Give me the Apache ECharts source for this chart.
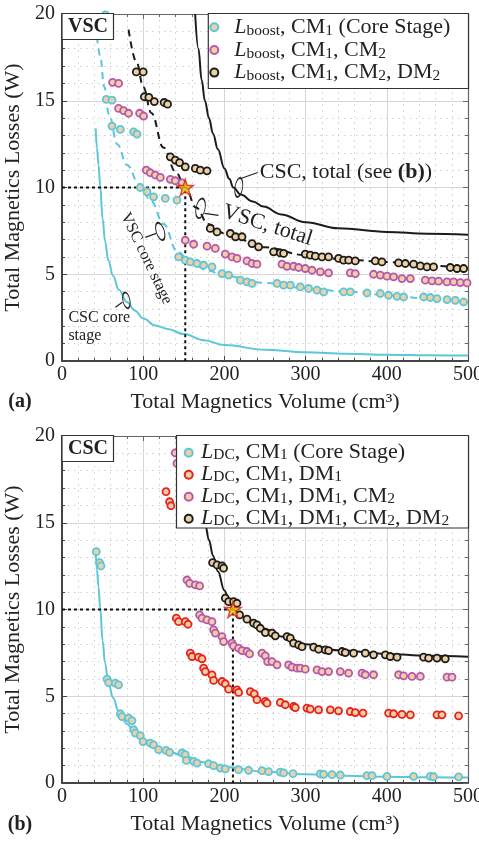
<!DOCTYPE html>
<html>
<head>
<meta charset="utf-8">
<script src="https://cdn.jsdelivr.net/npm/echarts@6/dist/echarts.min.js"></script>
<style>
  html, body { margin: 0; padding: 0; background: #fff; }
  #chart { width: 479px; height: 843px; }
</style>
</head>
<body>
<div id="chart"></div>
<script>
// ---- axes ----
const xMin = 0, xMax = 500, xStep = 100;
const yMin = 0, yMax = 20, yStep = 5;

// ---- panel (a): VSC, scatter of designs [volume cm3, losses W] ----
const vscCorePts = [
  [53.5, 19.95], [54.6, 15.08], [61.6, 15.04], [61.6, 13.54], [71.8, 13.35], [88.2, 13.21], [92.4, 13.08],
  [96.4, 10.0], [104.7, 9.75], [112.8, 9.46], [127.2, 9.37], [141.6, 9.27],
  [143.6, 6.0], [151.8, 5.81], [158, 5.71], [166.3, 5.62], [174.4, 5.52], [184.7, 5.42], [197, 5.04],
  [205.2, 4.95], [219.6, 4.66], [227.8, 4.56], [234, 4.47], [264.8, 4.47], [272.9, 4.37], [281.2, 4.37],
  [293.5, 4.27], [303.7, 4.18], [314, 4.08], [322.2, 3.98], [346.8, 3.98], [355, 3.98], [375.6, 3.92],
  [392, 3.89], [402.2, 3.79], [412.6, 3.73], [420.7, 3.69], [445.3, 3.69], [453.6, 3.66], [461.8, 3.6],
  [474.1, 3.54], [484.4, 3.5], [494.6, 3.4]
];
const vscCm2Pts = [
  [62.3, 16.06], [69.7, 16.0], [69.7, 14.56], [75.9, 14.43], [82, 14.28], [95.6, 14.28], [100.5, 14.12],
  [103.8, 11.0], [108.7, 10.85], [114.9, 10.72], [121.1, 10.58], [133.4, 10.47], [139.5, 10.39], [147.8, 10.27],
  [151.8, 6.96], [162.1, 6.73], [178.6, 6.62], [188.8, 6.49], [201.1, 6.16], [209.4, 6.0], [215.5, 5.91],
  [227.8, 5.77], [234, 5.62], [240.1, 5.58], [270.9, 5.58], [277.1, 5.46], [285.2, 5.46], [291.4, 5.39],
  [299.6, 5.33], [307.9, 5.23], [318.1, 5.14], [328.3, 5.08], [355, 5.08], [361.2, 5.04], [383.7, 5.0],
  [392, 4.95], [400.2, 4.89], [408.4, 4.85], [418.7, 4.75], [429, 4.75], [447.4, 4.66], [455.7, 4.62],
  [463.8, 4.6], [474.1, 4.56], [482.3, 4.56], [490.5, 4.52], [498.8, 4.5]
];
const vscDm2Pts = [
  [91.5, 16.66], [100, 16.66], [101.4, 15.23], [107, 15.2], [113.7, 14.95], [125.8, 14.9], [130, 14.8],
  [133.4, 11.77], [139.5, 11.58], [144.8, 11.43], [151.8, 11.19], [164.2, 11.1], [170.3, 11.0], [178.6, 10.96],
  [182.6, 7.64], [190.9, 7.44], [207.3, 7.35], [213.7, 7.16], [221.7, 7.16], [234, 6.77], [242.1, 6.58],
  [260.6, 6.29], [268.8, 6.23], [272.9, 6.2], [299.6, 6.16], [305.8, 6.1], [312, 6.04], [320.2, 6.0],
  [328.3, 6.0], [340.6, 5.91], [346.8, 5.81], [353, 5.81], [361.2, 5.77], [385.8, 5.77], [394, 5.71],
  [414.5, 5.65], [422.8, 5.62], [433, 5.58], [441.3, 5.48], [449.5, 5.42], [457.6, 5.42], [478.2, 5.39],
  [486.5, 5.33], [494.6, 5.33]
];
// fitted trends of panel (a)
const vscCoreFit = [
  [43, 18.7], [47, 17.6], [52, 15.8], [58, 14.2], [68, 12.5], [80, 11.3], [95, 10.2], [110, 9.2],
  [125, 7.9], [142, 6.3], [160, 5.6], [180, 5.2], [200, 4.9], [250, 4.5], [300, 4.2], [350, 4.0],
  [400, 3.8], [450, 3.6], [500, 3.4]
];
const vscTotalFit = [
  [82, 19.1], [92, 17.2], [100, 15.8], [110, 14.3], [125, 12.3], [140, 10.9], [152, 10.0], [165, 8.85],
  [180, 7.9], [200, 7.35], [250, 6.55], [300, 6.1], [350, 5.85], [400, 5.7], [450, 5.5], [500, 5.35]
];
const vscDesign = [151.8, 10];

// ---- CSC trends, shown in both panels ----
const cscCoreFit = [
  [41.5, 13.4], [43, 12.3], [45, 11.3], [47, 10.1], [50, 8.2], [53, 6.9], [57, 5.8], [63, 4.9],
  [70, 4.1], [80, 3.4], [90, 2.9], [100, 2.45], [115, 2.05], [130, 1.85], [150, 1.55], [175, 1.2],
  [200, 0.92], [250, 0.65], [300, 0.5], [350, 0.42], [400, 0.36], [450, 0.33], [500, 0.31]
];
const cscTotalFit = [
  [164, 20], [168, 18], [172, 16.2], [176, 15], [181, 14], [186, 13.1], [192, 12.2], [200, 11.1],
  [206, 10.5], [211, 10.0], [220, 9.6], [235, 9.2], [248, 8.9], [270, 8.45], [300, 8.0], [340, 7.65],
  [400, 7.44], [450, 7.34], [500, 7.28]
];

// ---- panel (b): CSC ----
const cscCorePts = [
  [42.2, 13.33], [46.3, 12.7], [48, 12.51], [55.4, 5.99], [57.4, 5.79], [65.6, 5.76], [69.7, 5.66],
  [71.8, 3.99], [73.9, 3.83], [82, 3.74], [86.2, 3.6], [88.2, 3.07], [90.3, 2.88], [96.4, 2.73],
  [99.8, 2.39], [108.7, 2.3], [112.8, 2.2], [119, 1.92], [128.1, 1.88], [132.5, 1.76], [147.8, 1.73],
  [151.8, 1.63], [153.1, 1.3], [162.1, 1.25], [166.3, 1.15], [180.5, 1.11], [186.7, 1.0], [195, 0.86],
  [201.1, 0.81], [217.5, 0.77], [229.8, 0.73], [246.3, 0.71], [254.4, 0.65], [268.8, 0.63], [272.9, 0.58],
  [284.5, 0.54], [318.1, 0.52], [322.2, 0.5], [332.5, 0.48], [342.7, 0.46], [375.6, 0.42], [381.8, 0.42],
  [400.2, 0.38], [433, 0.38], [453.6, 0.38], [457.6, 0.36], [488.4, 0.35]
];
const cscDm1Pts = [
  [128.1, 16.79], [132.5, 16.21], [134.2, 15.98], [140.8, 9.5], [143.6, 9.3], [151.8, 9.3], [155.2, 9.15],
  [158, 7.48], [160.1, 7.29], [168.2, 7.25], [172.4, 7.16], [174.4, 6.62], [176.5, 6.42], [184.7, 6.23],
  [186.7, 5.91], [197, 5.85], [201.1, 5.72], [205.2, 5.41], [215.5, 5.37], [217.5, 5.22], [231.9, 5.27],
  [236.8, 5.14], [240.1, 4.8], [250.4, 4.7], [252.5, 4.6], [268.8, 4.64], [275, 4.51], [285.2, 4.41],
  [287.3, 4.35], [301.7, 4.32], [305.8, 4.26], [316, 4.22], [330.4, 4.22], [340.6, 4.16], [355, 4.12],
  [361.2, 4.06], [370.7, 4.03], [402.2, 4.03], [408.4, 3.99], [418.7, 3.95], [429, 3.93], [461.8, 3.93],
  [467.9, 3.93], [488.4, 3.87]
];
const cscCm2Pts = [
  [139.5, 19.03], [141.6, 18.42], [153.9, 11.7], [157.1, 11.51], [164.2, 11.42], [169.5, 11.36],
  [169.5, 9.69], [172.4, 9.5], [178.6, 9.4], [184.7, 9.3], [186.7, 8.83], [188.8, 8.64], [197, 8.44],
  [199, 8.15], [209.4, 8.06], [211.3, 7.9], [217.5, 7.77], [221.7, 7.63], [227.8, 7.58], [231, 7.44],
  [246.3, 7.48], [250.4, 7.33], [253.2, 7.0], [258.6, 7.0], [264.8, 6.81], [279.1, 6.81], [283.3, 6.68],
  [289.4, 6.62], [293.5, 6.62], [299.6, 6.56], [314, 6.52], [320.2, 6.42], [328.3, 6.42], [342.7, 6.42],
  [353, 6.33], [369.5, 6.33], [373.5, 6.24], [383.7, 6.24], [414.5, 6.24], [420.7, 6.18], [431, 6.14],
  [441.3, 6.14], [474.1, 6.1], [480.3, 6.1]
];
const cscDm2Pts = [
  [185.5, 12.7], [190.9, 12.57], [197, 12.51], [199, 12.38], [201.1, 10.65], [205.2, 10.45], [211.3, 10.45],
  [215.5, 10.36], [218.7, 9.69], [227.8, 9.44], [236, 9.21], [240.1, 9.11], [244.2, 8.92], [250.4, 8.67],
  [258.6, 8.64], [262.7, 8.48], [277.1, 8.44], [281.2, 8.35], [285.2, 8.06], [291.4, 7.96], [295.6, 7.86],
  [309.9, 7.83], [316, 7.71], [324.3, 7.67], [328.3, 7.63], [344.8, 7.58], [348.9, 7.52], [359.1, 7.48],
  [373.5, 7.48], [383.7, 7.39], [398.2, 7.39], [404.3, 7.29], [412.6, 7.25], [445.3, 7.25], [451.5, 7.2],
  [461.8, 7.2], [472, 7.16]
];
const cscDesign = [210.5, 10];

// ---- legend entries ----
const vscNames = ['Lboost, CM1 (Core Stage)', 'Lboost, CM1, CM2', 'Lboost, CM1, CM2, DM2'];
const cscNames = ['LDC, CM1 (Core Stage)', 'LDC, CM1, DM1', 'LDC, CM1, DM1, CM2', 'LDC, CM1, DM1, CM2, DM2'];
const legendRich = {
  'Lboost, CM1 (Core Stage)': '{sp| }{it|L}{sub|boost}{rm|, CM}{sub|1}{rm| (Core Stage)}',
  'Lboost, CM1, CM2': '{sp| }{it|L}{sub|boost}{rm|, CM}{sub|1}{rm|, CM}{sub|2}',
  'Lboost, CM1, CM2, DM2': '{sp| }{it|L}{sub|boost}{rm|, CM}{sub|1}{rm|, CM}{sub|2}{rm|, DM}{sub|2}',
  'LDC, CM1 (Core Stage)': '{sp| }{it|L}{sub|DC}{rm|, CM}{sub|1}{rm| (Core Stage)}',
  'LDC, CM1, DM1': '{sp| }{it|L}{sub|DC}{rm|, CM}{sub|1}{rm|, DM}{sub|1}',
  'LDC, CM1, DM1, CM2': '{sp| }{it|L}{sub|DC}{rm|, CM}{sub|1}{rm|, DM}{sub|1}{rm|, CM}{sub|2}',
  'LDC, CM1, DM1, CM2, DM2': '{sp| }{it|L}{sub|DC}{rm|, CM}{sub|1}{rm|, DM}{sub|1}{rm|, CM}{sub|2}{rm|, DM}{sub|2}'
};

// ---- styles ----
const SERIF = "'Liberation Serif', 'DejaVu Serif', serif";
const FILL = '#EDD1A5';
const CYAN = '#5CC6DA';
const PINK = '#B955AF';
const RED = '#E8211D';
const BLACK = '#1c1c1c';
const STAR = 'path://M50,0 L61.8,35.4 L99,35.4 L69,57.3 L80.4,92.7 L50,70.8 L19.6,92.7 L31,57.3 L1,35.4 L38.2,35.4 Z';

const GRID_LEFT = 62, GRID_RIGHT = 11, GRID_H = 347;
const grids = [
  { left: GRID_LEFT, right: GRID_RIGHT, top: 14, height: GRID_H, outerBoundsMode: 'none', containLabel: false },
  { left: GRID_LEFT, right: GRID_RIGHT, top: 436, height: GRID_H, outerBoundsMode: 'none', containLabel: false }
];

function mainX(gi) {
  return {
    gridIndex: gi, type: 'value', min: xMin, max: xMax, interval: xStep, position: 'bottom',
    name: 'Total Magnetics Volume (cm³)', nameLocation: 'middle', nameGap: 30,
    nameTextStyle: { fontFamily: SERIF, fontSize: 22, color: '#222' },
    axisLine: { show: true, onZero: false, lineStyle: { color: '#454545', width: 2 } },
    axisTick: { show: true, inside: true, length: 5, lineStyle: { color: '#454545' } },
    minorTick: { show: true, splitNumber: 5, length: 3, lineStyle: { color: '#454545' } },
    axisLabel: { fontFamily: SERIF, fontSize: 20, color: '#222', margin: 4 },
    splitLine: { show: true, lineStyle: { color: '#d6d6d6', width: 1 } },
    minorSplitLine: { show: true, lineStyle: { color: '#cfcfcf', width: 1, type: [1.5, 4.5] } }
  };
}
function mirrorX(gi) {
  return {
    gridIndex: gi, type: 'value', min: xMin, max: xMax, interval: xStep, position: 'top',
    axisLine: { show: true, onZero: false, lineStyle: { color: '#666', width: 1.2 } },
    axisTick: { show: true, inside: true, length: 5, lineStyle: { color: '#666' } },
    minorTick: { show: true, splitNumber: 5, length: 3, lineStyle: { color: '#666' } },
    axisLabel: { show: false }, splitLine: { show: false }
  };
}
function mainY(gi) {
  return {
    gridIndex: gi, type: 'value', min: yMin, max: yMax, interval: yStep, position: 'left',
    name: 'Total Magnetics Losses (W)', nameLocation: 'middle', nameGap: 26,
    nameTextStyle: { fontFamily: SERIF, fontSize: 22, color: '#222' },
    axisLine: { show: true, onZero: false, lineStyle: { color: '#454545', width: 2 } },
    axisTick: { show: true, inside: true, length: 5, lineStyle: { color: '#454545' } },
    minorTick: { show: true, splitNumber: 5, length: 3, lineStyle: { color: '#454545' } },
    axisLabel: { fontFamily: SERIF, fontSize: 20, color: '#222', margin: 7 },
    splitLine: { show: true, lineStyle: { color: '#d6d6d6', width: 1 } },
    minorSplitLine: { show: true, lineStyle: { color: '#cfcfcf', width: 1, type: [1.5, 4.5] } }
  };
}
function mirrorY(gi) {
  return {
    gridIndex: gi, type: 'value', min: yMin, max: yMax, interval: yStep, position: 'right',
    axisLine: { show: true, onZero: false, lineStyle: { color: '#666', width: 1.2 } },
    axisTick: { show: true, inside: true, length: 5, lineStyle: { color: '#666' } },
    minorTick: { show: true, splitNumber: 5, length: 3, lineStyle: { color: '#666' } },
    axisLabel: { show: false }, splitLine: { show: false }
  };
}

function curve(gi, data, color, dashed, name) {
  return {
    name, type: 'line', xAxisIndex: gi * 2, yAxisIndex: gi * 2, data,
    symbol: 'none', smooth: 0.4, smoothMonotone: 'x', silent: true, z: 2,
    lineStyle: { color, width: 2, type: dashed ? [7, 5] : 'solid' }
  };
}
function guide(gi, p) {
  return {
    type: 'line', xAxisIndex: gi * 2, yAxisIndex: gi * 2, silent: true, symbol: 'none', z: 2,
    data: [[xMin, p[1]], [p[0], p[1]], [p[0], yMin]],
    lineStyle: { color: '#111', width: 2, type: [3, 3] }
  };
}
function dots(gi, name, data, stroke) {
  return {
    name, type: 'scatter', xAxisIndex: gi * 2, yAxisIndex: gi * 2, data,
    symbol: 'circle', symbolSize: 7, z: 3,
    itemStyle: { color: FILL, borderColor: stroke, borderWidth: 1.8, opacity: 1 }
  };
}
function star(gi, p) {
  return {
    type: 'scatter', xAxisIndex: gi * 2, yAxisIndex: gi * 2, data: [p], silent: true,
    symbol: STAR, symbolSize: 16, z: 4,
    itemStyle: { color: '#F6C400', borderColor: '#C8231C', borderWidth: 1.5 }
  };
}
function legendFor(names, left, top, fontSize, subSize, rowH, spacer) {
  return {
    data: names, orient: 'vertical', left, top, padding: 0, itemGap: 0,
    itemWidth: 8, itemHeight: 8, icon: 'circle', z: 12, selectedMode: false,
    formatter: n => legendRich[n],
    textStyle: {
      rich: {
        sp: { width: spacer, fontSize: 4 },
        it: { fontFamily: SERIF, fontSize, fontStyle: 'italic', lineHeight: rowH, color: '#222' },
        rm: { fontFamily: SERIF, fontSize, lineHeight: rowH, color: '#222' },
        sub: { fontFamily: SERIF, fontSize: subSize, lineHeight: 12, verticalAlign: 'bottom', color: '#222' }
      }
    }
  };
}

const option = {
  animation: false,
  backgroundColor: '#fff',
  grid: grids,
  xAxis: [mainX(0), mirrorX(0), mainX(1), mirrorX(1)],
  yAxis: [mainY(0), mirrorY(0), mainY(1), mirrorY(1)],
  legend: [
    legendFor(vscNames, 209.3, 16.3, 22, 15.5, 23.3, 11),
    legendFor(cscNames, 183.7, 441.7, 22, 15.5, 20, 3.3)
  ],
  series: [
    curve(0, cscCoreFit, CYAN, false, 'CSC core stage'),
    curve(0, cscTotalFit, BLACK, false, 'CSC, total'),
    curve(0, vscCoreFit, CYAN, true, 'VSC core stage'),
    curve(0, vscTotalFit, BLACK, true, 'VSC, total'),
    guide(0, vscDesign),
    dots(0, vscNames[0], vscCorePts, CYAN),
    dots(0, vscNames[1], vscCm2Pts, PINK),
    dots(0, vscNames[2], vscDm2Pts, BLACK),
    star(0, vscDesign),

    curve(1, cscCoreFit, CYAN, false, 'CSC core fit'),
    curve(1, cscTotalFit, BLACK, false, 'CSC total fit'),
    guide(1, cscDesign),
    dots(1, cscNames[0], cscCorePts, CYAN),
    dots(1, cscNames[1], cscDm1Pts, RED),
    dots(1, cscNames[2], cscCm2Pts, PINK),
    dots(1, cscNames[3], cscDm2Pts, BLACK),
    star(1, cscDesign)
  ]
};

const chart = echarts.init(document.getElementById('chart'), null, { renderer: 'canvas' });
chart.setOption(option);

// ---- annotations, anchored on data coordinates ----
const toPx = (gi, p) => chart.convertToPixel({ gridIndex: gi }, p);
const els = [];
function text(x, y, str, size, opts) {
  els.push(Object.assign({
    type: 'text', z: 10, x, y,
    style: Object.assign({ text: str, fontFamily: SERIF, fontSize: size, fill: '#222',
      align: 'left', verticalAlign: 'middle' }, (opts && opts.style) || {})
  }, opts && opts.el));
}
function ring(c, rx, ry, rot) {
  els.push({ type: 'circle', z: 10, x: c[0], y: c[1], rotation: rot || 0, scaleX: rx / ry,
    shape: { cx: 0, cy: 0, r: ry }, style: { fill: 'none', stroke: '#222', lineWidth: 1.3, strokeNoScale: true } });
}
function leader(x1, y1, x2, y2) {
  els.push({ type: 'line', z: 10, shape: { x1, y1, x2, y2 }, style: { stroke: '#222', lineWidth: 1.2 } });
}
function tagBox(gi, label) {
  const c = toPx(gi, [xMin, yMax]);
  els.push({ type: 'rect', z: 10, shape: { x: c[0], y: c[1] - 0.5, width: 51.5, height: 26 },
    style: { fill: '#fff', stroke: '#333', lineWidth: 1.2 } });
  text(c[0] + 26, c[1] + 13, label, 20, { style: { fontWeight: 'bold', align: 'center' } });
}
function legendBox(gi, left, height) {
  const c = toPx(gi, [xMax, yMax]);
  els.push({ type: 'rect', z: 10, shape: { x: left, y: c[1] - 0.5, width: c[0] + 0.5 - left, height },
    style: { fill: '#fff', stroke: '#333', lineWidth: 1.2 } });
}

tagBox(0, 'VSC');
tagBox(1, 'CSC');
legendBox(0, 208.3, 75);
legendBox(1, 176.5, 92.5);

// panel (a) labels
let r = toPx(0, [217.7, 10.0]);
ring(r, 3.8, 9.5, -0.15);
leader(r[0] + 2, r[1] - 9, r[0] + 19, r[1] - 15);
els.push({ type: 'text', z: 10, x: r[0] + 21, y: r[1] - 15,
  style: { text: '{n|CSC, total (see }{b|(b)}{n|)}', align: 'left', verticalAlign: 'middle',
    rich: { n: { fontFamily: SERIF, fontSize: 22, fill: '#222' },
            b: { fontFamily: SERIF, fontSize: 22, fontWeight: 'bold', fill: '#222' } } } });

r = toPx(0, [170.6, 8.8]);
ring(r, 4.5, 10, -0.2);
leader(r[0] + 4, r[1] + 5, r[0] + 18, r[1] + 7);
text(r[0] + 67, r[1] + 17, 'VSC, total', 22, { style: { align: 'center' }, el: { rotation: -0.31 } });

r = toPx(0, [121, 7.47]);
ring(r, 4, 9, 0.3);
leader(r[0] - 15, r[1] + 6, r[0] - 4, r[1] + 2);
text(r[0] - 14, r[1] + 27, 'VSC core stage', 16, { style: { align: 'center' }, el: { rotation: -1.12 } });

r = toPx(0, [79.3, 3.5]);
ring(r, 3.5, 8, 0.2);
leader(r[0] - 11, r[1] + 7, r[0] - 4, r[1] + 2);
text(r[0] - 58, r[1] + 18, 'CSC core', 16);
text(r[0] - 58, r[1] + 36, 'stage', 16);

// panel letters
let o = toPx(0, [xMin, yMin]);
text(o[0] - 42, o[1] + 41, '(a)', 20, { style: { fontWeight: 'bold', align: 'center' } });
o = toPx(1, [xMin, yMin]);
text(o[0] - 42, o[1] + 42, '(b)', 20, { style: { fontWeight: 'bold', align: 'center' } });

chart.setOption({ graphic: { elements: els } });
</script>
</body>
</html>
